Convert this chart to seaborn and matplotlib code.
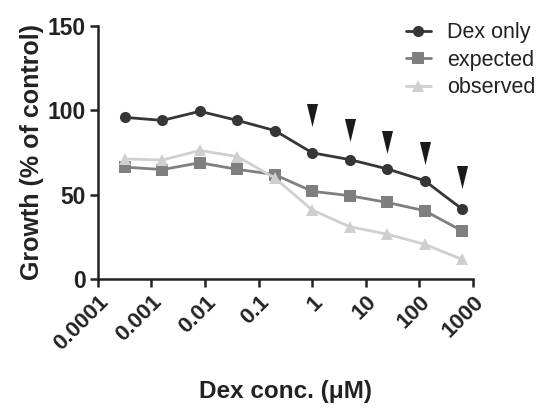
import matplotlib
matplotlib.use("Agg")
import matplotlib.pyplot as plt
import matplotlib.ticker as mticker
import pandas as pd
import seaborn as sns

# Dex concentrations (uM), 5-fold dilution series
conc = [0.00032, 0.0016, 0.008, 0.04, 0.2, 1, 5, 25, 125, 625]
dex_only = [95.8, 94.0, 99.4, 94.0, 88.0, 74.8, 70.8, 65.3, 58.3, 41.5]
expected = [66.3, 64.9, 68.9, 65.0, 61.9, 52.0, 49.4, 45.4, 40.5, 28.6]
observed = [71.2, 70.5, 76.2, 72.6, 59.9, 40.9, 31.0, 26.6, 20.6, 11.7]

# arrowheads marking significant points
arrow_x = [1, 5, 25, 125, 625]
arrow_y = [97, 88.5, 81.5, 74.5, 60.5]

xticks = [0.0001, 0.001, 0.01, 0.1, 1, 10, 100, 1000]
xtick_labels = ["0.0001", "0.001", "0.01", "0.1", "1", "10", "100", "1000"]

sns.set_style("ticks")
plt.rcParams["font.family"] = ["Liberation Sans", "DejaVu Sans"]

df = pd.DataFrame({"conc": conc * 3,
                   "growth": dex_only + expected + observed,
                   "group": ["Dex only"] * 10 + ["expected"] * 10 + ["observed"] * 10})

fig = plt.figure(figsize=(5.5, 4.11), dpi=100)
ax = fig.add_axes([0.178, 0.321, 0.682, 0.616])

sns.lineplot(data=df, x="conc", y="growth", hue="group", style="group",
             palette=["#363636", "#7f7f7f", "#cfcfcf"],
             markers=["o", "s", "^"], dashes=False, markersize=8,
             linewidth=2, markeredgewidth=0, ax=ax)

# narrow downward arrowhead
arrow_marker = [(-0.48, 1), (0.48, 1), (0, -1)]
ax.scatter(arrow_x, arrow_y, marker=arrow_marker, s=275, color="#1a1a1a",
           linewidths=0, zorder=5)

ax.set_xscale("log")
ax.set_xlim(1e-4, 1e3)
ax.set_ylim(0, 150)
ax.set_xticks(xticks)
ax.set_xticklabels(xtick_labels, rotation=45, ha="right", rotation_mode="anchor",
                   fontsize=16, fontweight="bold", color="#222222")
ax.xaxis.set_minor_locator(mticker.NullLocator())
ax.set_yticks([0, 50, 100, 150])
ax.set_yticklabels(["0", "50", "100", "150"], fontsize=16.5, fontweight="bold", color="#222222")

ax.tick_params(axis="both", which="major", length=6, width=1.8, color="#222222", pad=3)
for s in ["left", "bottom"]:
    ax.spines[s].set_linewidth(1.8)
    ax.spines[s].set_color("#222222")
sns.despine(ax=ax)

ax.set_xlabel("Dex conc. (μM)", fontsize=17.5, fontweight="bold", color="#222222", labelpad=18)
ax.set_ylabel("Growth (% of control)", fontsize=18, fontweight="bold", color="#222222", labelpad=2)

leg = ax.legend(loc="upper left", bbox_to_anchor=(0.77, 1.09), frameon=False,
                fontsize=15.5, handlelength=1.15, handletextpad=0.75, labelspacing=0.3)
for t in leg.get_texts():
    t.set_color("#222222")

fig.savefig("out.png", dpi=100)
